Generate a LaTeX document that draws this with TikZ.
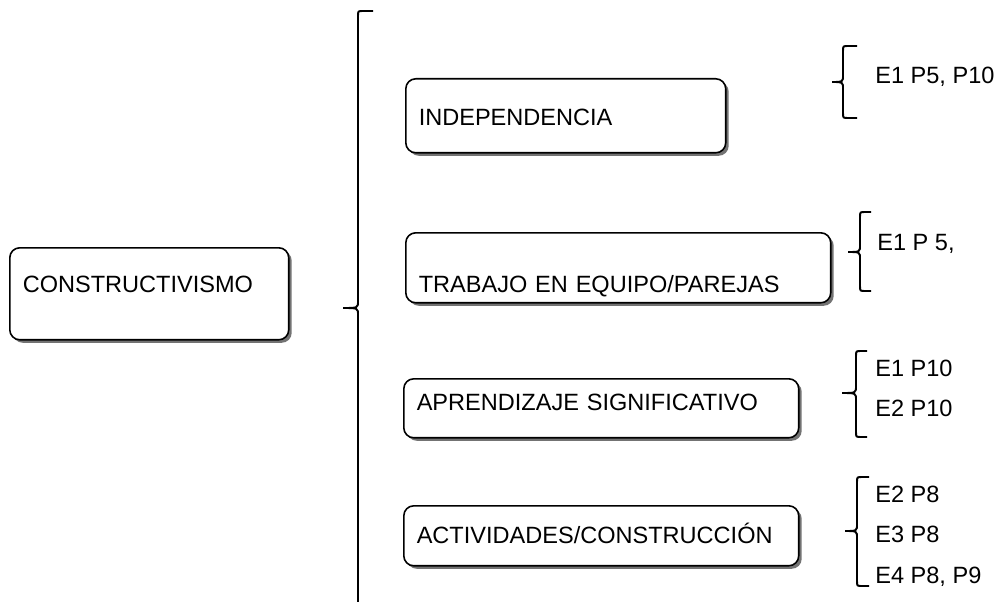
\documentclass[tikz,border=0pt]{standalone}
\usepackage{fontspec}
\setmainfont{Liberation Sans}
\usetikzlibrary{shadows}
\def\llave(#1,#2,#3,#4,#5,#6){\draw[line width=1.1pt] (#6,#2) -- (#1+5,#2) .. controls (#1,#2) .. (#1,#2+5) -- (#1,#3-7) .. controls (#1,#3) .. (#5,#3) .. controls (#1,#3) .. (#1,#3+7) -- (#1,#4-5) .. controls (#1,#4) .. (#1+5,#4) -- (#6,#4);}
\tikzset{
	caja/.style={draw, line width=0.9pt, rounded corners=0.2cm, fill=white, anchor=north west, inner ysep=0pt, inner xsep=0.26cm, align=left, drop shadow={shadow xshift=0.06cm, shadow yshift=-0.06cm, fill=black!55, opacity=1}},
	ref/.style={anchor=base west, inner sep=0pt}
}

\begin{document}
\begin{tikzpicture}[x=0.02cm, y=-0.02cm, font=\fontsize{13.4}{16}\selectfont]
			%%%%% START %%%%%
			
			\useasboundingbox (0,0) rectangle (999,601);
			
			\node[caja, text width=5.06cm, text height=0.9cm, text depth=0.94cm] (cons) at (9,247) {CONSTRUCTIVISMO};
			
			\node[caja, text width=5.88cm, text height=0.94cm, text depth=0.54cm] (indep) at (405,78) {INDEPENDENCIA};
			\node[caja, text width=7.98cm, text height=1.2cm, text depth=0.2cm] (trabajo) at (405,232) {TRABAJO EN EQUIPO/PAREJAS};
			\node[caja, text width=7.38cm, text height=0.64cm, text depth=0.54cm] (aprend) at (403,378) {APRENDIZAJE SIGNIFICATIVO};
			\node[caja, text width=7.38cm, text height=0.76cm, text depth=0.44cm] (activ) at (403,505) {ACTIVIDADES/CONSTRUCCI\'ON};
			
			\llave(358,11,308,640,343,373)
			
			\llave(843,46,82,118,832,857)
			\node[ref] (e1a) at (875,84) {E1 P5, P10};
			
			\llave(860,212,252,291,848,871)
			\node[ref] (e1b) at (877,250) {E1 P 5,};
			
			\llave(856,351,393,437,842,867)
			\node[ref] (e1c) at (875,376) {E1 P10};
			\node[ref] (e2c) at (875,416) {E2 P10};
			
			\llave(857,477,531,586,845,869)
			\node[ref] (e2d) at (875,502) {E2 P8};
			\node[ref] (e3d) at (875,542) {E3 P8};
			\node[ref] (e4d) at (875,583) {E4 P8, P9};
			
			%%%%% END %%%%%
\end{tikzpicture}
\end{document}
